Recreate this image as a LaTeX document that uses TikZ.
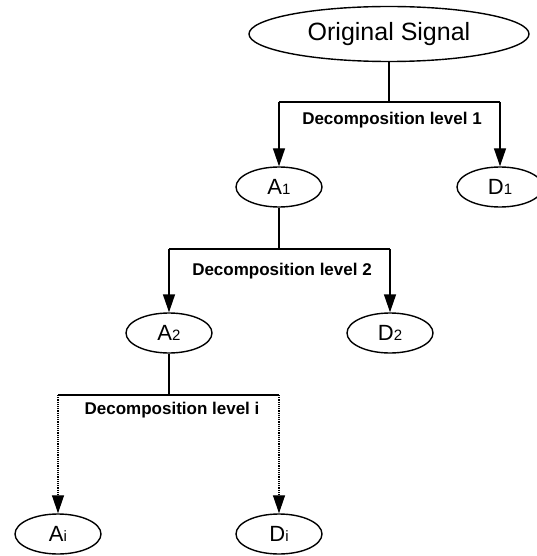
\documentclass[tikz,border=0pt]{standalone}
\usepackage{fontspec}
\setmainfont{Liberation Sans}
\usetikzlibrary{shapes.geometric,arrows.meta}
\newcommand\subdig[1]{\raisebox{-0.5pt}{\fontsize{15}{15}\selectfont #1}}
\tikzset{
  leaf/.style={ellipse,draw,line width=1.4pt,minimum width=86pt,minimum height=40pt,inner sep=0pt,font=\fontsize{22}{22}\selectfont},
  conn/.style={line width=1.4pt},
  arr/.style={line width=1.4pt,-{Triangle[length=18pt,width=12pt]}},
  darr/.style={line width=1.2pt,densely dotted,-{Triangle[length=18pt,width=12pt]}},
  lvl/.style={font=\fontsize{17}{17}\selectfont\bfseries,inner sep=0pt}
}
\begin{document}
\begin{tikzpicture}[x=1pt,y=-1pt]
\useasboundingbox (0,0) rectangle (537,556);
\node[ellipse,draw,line width=1.4pt,minimum width=280pt,minimum height=55pt,inner sep=0pt,font=\fontsize{25}{25}\selectfont] (OS) at (389,34) {Original Signal};
\node[leaf] (A1) at (279,187) {A\subdig{1}};
\node[leaf] (D1) at (500,187) {D\subdig{1}};
\node[leaf] (A2) at (169,333) {A\subdig{2}};
\node[leaf] (D2) at (390,333) {D\subdig{2}};
\node[leaf] (Ai) at (58,534) {A\subdig{i}};
\node[leaf] (Di) at (279,534) {D\subdig{i}};
\coordinate (b1) at (389,102);
\coordinate (b2) at (279,249);
\coordinate (b3) at (169,395);
% level 1
\draw[conn] (OS) -- (b1);
\draw[conn] (A1.north |- b1) -- (D1.north |- b1);
\draw[arr] (A1.north |- b1) -- (A1);
\draw[arr] (D1.north |- b1) -- (D1);
\node[lvl] (L1) at (392,120) {Decomposition level 1};
% level 2
\draw[conn] (A1) -- (b2);
\draw[conn] (A2.north |- b2) -- (D2.north |- b2);
\draw[arr] (A2.north |- b2) -- (A2);
\draw[arr] (D2.north |- b2) -- (D2);
\node[lvl] (L2) at (282,271) {Decomposition level 2};
% level i
\draw[conn] (A2) -- (b3);
\draw[conn] (Ai.north |- b3) -- (Di.north |- b3);
\draw[darr] (Ai.north |- b3) -- (Ai);
\draw[darr] (Di.north |- b3) -- (Di);
\node[lvl] (L3) at (172,410) {Decomposition level i};
\end{tikzpicture}
\end{document}
